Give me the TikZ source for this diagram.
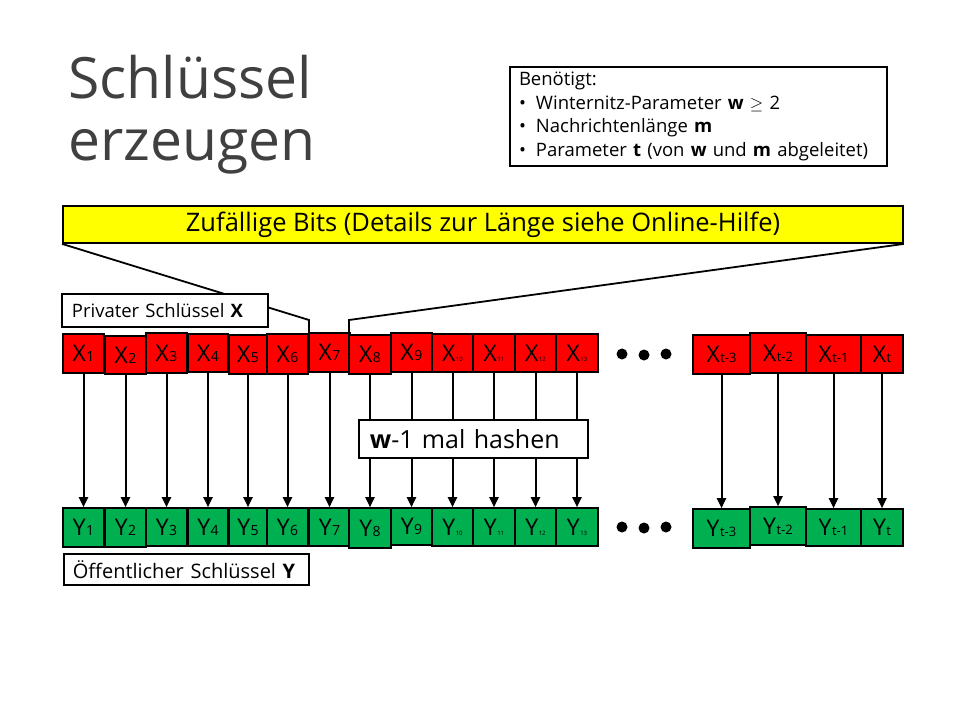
\documentclass[tikz,border=0pt]{standalone}
\usepackage{fontspec}
\setmainfont{Open Sans}
\usetikzlibrary{arrows.meta}
\definecolor{keyred}{RGB}{255,0,0}
\definecolor{keygreen}{RGB}{0,176,80}
\definecolor{bitsyellow}{RGB}{255,255,0}
\definecolor{titlegray}{RGB}{64,64,64}

% one key cell: style, name, x1, x2, y1, y2, letter, index, index size
\newcommand\keycell[9]{%
  \node[#1, minimum width={#4-#3}, minimum height={#6-#5}] (#2)
    at ({(#3+#4)/2},{(#5+#6)/2})
    {\fontsize{23}{23}\selectfont #7\kern0.5pt\fontsize{#9}{#9}\selectfont #8};}

\begin{document}
\begin{tikzpicture}[x=1pt,y=-1pt,
  cellbox/.style={draw=black, line width=1.6pt, inner sep=0pt, rectangle},
  privcell/.style={cellbox, fill=keyred},
  pubcell/.style={cellbox, fill=keygreen},
  labelbox/.style={draw=black, line width=1.8pt, fill=white, inner sep=0pt, align=left},
  hasharrow/.style={line width=2pt, -{Triangle[length=10pt,width=9pt]}},
  feedline/.style={line width=1.8pt},
  dotmark/.style={circle, fill=black, inner sep=0pt, minimum size=11pt},
  titletext/.style={anchor=base west, inner sep=0pt, text=titlegray,
                    font=\fontsize{57}{57}\selectfont}]
\useasboundingbox (0,0) rectangle (960,720);

% title
\node[titletext] (titleA) at (68,98) {Schlüssel};
\node[titletext] (titleB) at (68,160) {erzeugen};

% requirements
\node[labelbox, minimum width=377, minimum height=99, text width=359pt, inner xsep=9pt,
      font=\fontsize{18.5}{23.5}\selectfont] (needs) at (698.5,116.5)
  {Benötigt:\\
   \makebox[17pt][l]{•}Winternitz-Parameter \textbf{w} $\geq$ 2\\
   \makebox[17pt][l]{•}Nachrichtenlänge \textbf{m}\\
   \makebox[17pt][l]{•}Parameter \textbf{t} (von \textbf{w} und \textbf{m} abgeleitet)};

% random bits
\node[draw=black, line width=1.8pt, fill=bitsyellow, minimum width=840, minimum height=37,
      inner sep=0pt, font=\fontsize{25.5}{25.5}\selectfont] (bits) at (483,224.5)
  {Zufällige Bits (Details zur Länge siehe Online-Hilfe)};

\coordinate (kinkL) at (309,320);
\coordinate (kinkR) at (349,320);

% private key cells
\keycell{privcell}{X1}{63}{104}{334}{373}{X}{1}{14}
\keycell{privcell}{X2}{105}{146}{336}{374}{X}{2}{14}
\keycell{privcell}{X3}{146}{187}{333}{373}{X}{3}{14}
\keycell{privcell}{X4}{188}{228}{334}{372}{X}{4}{14}
\keycell{privcell}{X5}{229}{267}{335}{374}{X}{5}{14}
\keycell{privcell}{X6}{267}{308}{334}{374}{X}{6}{14}
\keycell{privcell}{X7}{309}{350}{333}{372}{X}{7}{14}
\keycell{privcell}{X8}{349}{391}{335}{374}{X}{8}{14}
\keycell{privcell}{X9}{391}{432}{333}{372}{X}{9}{14}
\keycell{privcell}{X10}{432}{473}{334}{372}{X}{10}{6}
\keycell{privcell}{X11}{473}{515}{334}{372}{X}{11}{6}
\keycell{privcell}{X12}{515}{556}{334}{372}{X}{12}{6}
\keycell{privcell}{X13}{556}{598}{334}{372}{X}{13}{6}
\keycell{privcell}{Xt3}{693}{750}{335}{374}{X}{t-3}{13}
\keycell{privcell}{Xt2}{750}{806}{333}{373}{X}{t-2}{13}
\keycell{privcell}{Xt1}{806}{861}{335}{373}{X}{t-1}{13}
\keycell{privcell}{Xt}{861}{903}{335}{373}{X}{t}{13}

% public key cells
\keycell{pubcell}{Y1}{63}{104}{508}{547}{Y}{1}{14}
\keycell{pubcell}{Y2}{105}{146}{508}{547}{Y}{2}{14}
\keycell{pubcell}{Y3}{146}{187}{508}{546}{Y}{3}{14}
\keycell{pubcell}{Y4}{188}{228}{508}{546}{Y}{4}{14}
\keycell{pubcell}{Y5}{229}{267}{508}{546}{Y}{5}{14}
\keycell{pubcell}{Y6}{267}{308}{508}{546}{Y}{6}{14}
\keycell{pubcell}{Y7}{309}{350}{508}{546}{Y}{7}{14}
\keycell{pubcell}{Y8}{349}{391}{508}{548}{Y}{8}{14}
\keycell{pubcell}{Y9}{391}{432}{508}{545}{Y}{9}{14}
\keycell{pubcell}{Y10}{432}{473}{508}{546}{Y}{10}{6}
\keycell{pubcell}{Y11}{473}{515}{508}{546}{Y}{11}{6}
\keycell{pubcell}{Y12}{515}{556}{508}{546}{Y}{12}{6}
\keycell{pubcell}{Y13}{556}{598}{508}{546}{Y}{13}{6}
\keycell{pubcell}{Yt3}{693}{750}{509}{548}{Y}{t-3}{13}
\keycell{pubcell}{Yt2}{750}{806}{507}{545}{Y}{t-2}{13}
\keycell{pubcell}{Yt1}{806}{861}{509}{546}{Y}{t-1}{13}
\keycell{pubcell}{Yt}{861}{903}{509}{546}{Y}{t}{13}

% random bits feed the private key
\draw[feedline] (bits.south west) -- (kinkL) -- (kinkL |- X7.north);
\draw[feedline] (bits.south east) -- (kinkR) -- (kinkR |- X8.north);

\node[labelbox, minimum width=206, minimum height=33, inner xsep=10pt, text width=186pt,
      anchor=west, font=\fontsize{18.5}{18.5}\selectfont] (privlabel) at (61,310.5)
  {Privater Schlüssel \textbf{X}};
\node[labelbox, minimum width=245, minimum height=31, inner xsep=9pt, text width=227pt,
      anchor=west, font=\fontsize{20}{20}\selectfont] (publabel) at (63,569.5)
  {Öffentlicher Schlüssel \textbf{Y}};

% hash chains
\foreach \k in {1,...,13,t3,t2,t1,t}
  \draw[hasharrow] (X\k.south) -- (Y\k.north);

\node[labelbox, minimum width=229, minimum height=38, inner xsep=11pt, text width=207pt,
      anchor=west, font=\fontsize{25}{25}\selectfont] (hash) at (358,439)
  {\textbf{w}-1 mal hashen};

% ellipsis between the cell groups
\node[dotmark] (dotA1) at (622,354) {};
\node[dotmark] (dotA2) at (644,355) {};
\node[dotmark] (dotA3) at (666,354) {};
\node[dotmark] (dotB1) at (622,527) {};
\node[dotmark] (dotB2) at (644,528) {};
\node[dotmark] (dotB3) at (666,527) {};
\end{tikzpicture}
\end{document}
